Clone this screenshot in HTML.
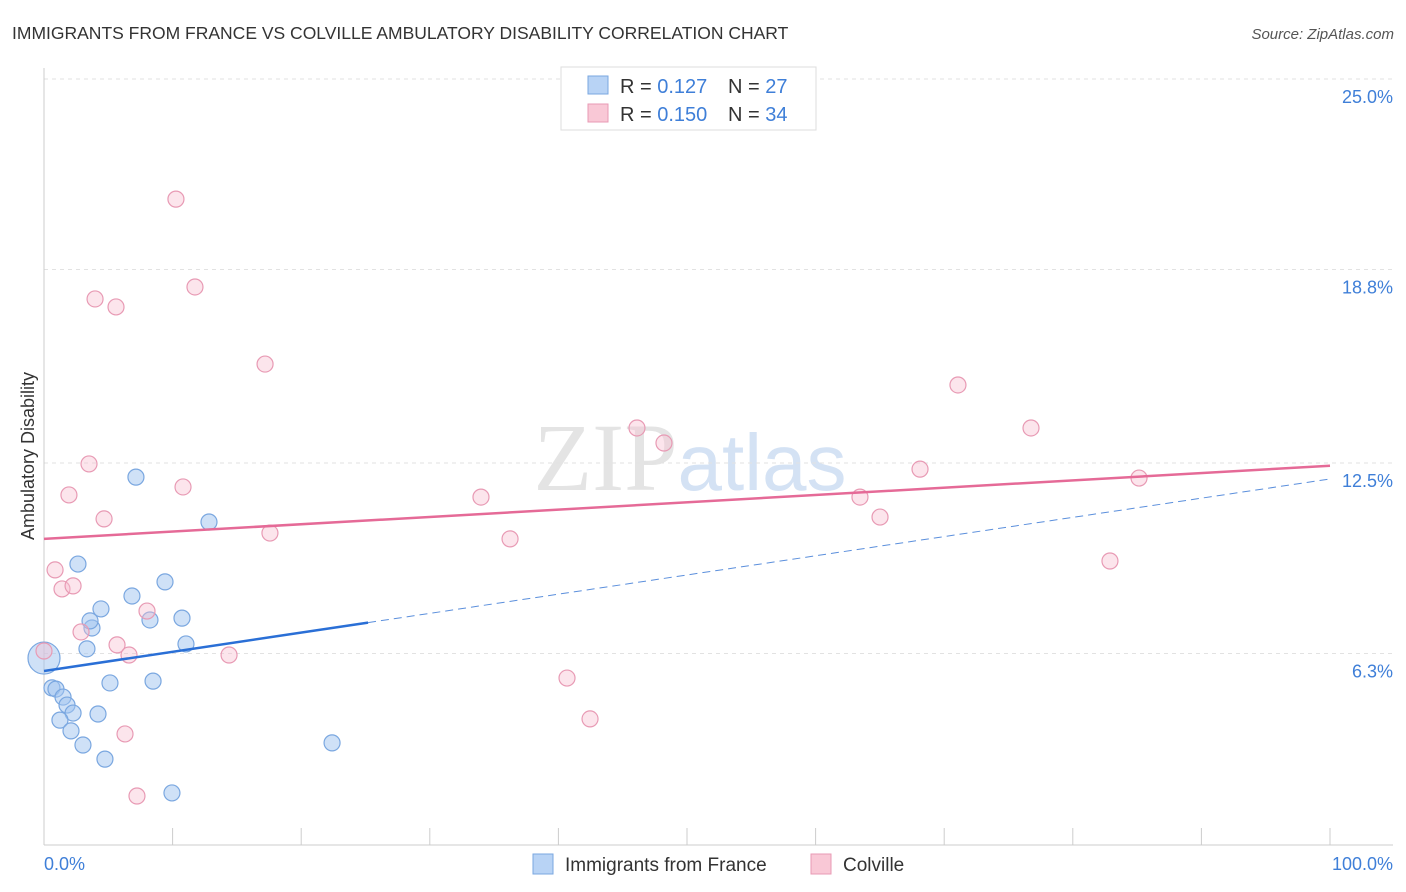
<!DOCTYPE html>
<html><head><meta charset="utf-8"><style>
body{margin:0;background:#fff;font-family:"Liberation Sans",sans-serif;}
</style></head><body>
<svg id="chart" width="1406" height="892" xmlns="http://www.w3.org/2000/svg" style="display:block">
<text x="12" y="39" font-size="17.5" fill="#333">IMMIGRANTS FROM FRANCE VS COLVILLE AMBULATORY DISABILITY CORRELATION CHART</text>
<text x="1394" y="39" font-size="15" fill="#555" text-anchor="end" font-style="italic">Source: ZipAtlas.com</text>
<text x="690" y="490" font-size="96" text-anchor="middle" fill="#e4e4e4" font-family="Liberation Serif, serif">ZIP<tspan fill="#d4e2f4" font-family="Liberation Sans, sans-serif" font-size="80">atlas</tspan></text>
<text transform="translate(34,456) rotate(-90)" font-size="18" fill="#333" text-anchor="middle">Ambulatory Disability</text>
<g id="grid"></g>
<g id="axes"></g>
<g id="marks"></g>
<g>
<rect x="561" y="67" width="255" height="63" fill="#fff" stroke="#ddd"/>
<rect x="588" y="76" width="20" height="18" fill="#b8d3f5" stroke="#7aa7e0"/>
<text x="620" y="93" font-size="20" fill="#333">R = <tspan fill="#3f7fd8">0.127</tspan></text>
<text x="728" y="93" font-size="20" fill="#333">N = <tspan fill="#3f7fd8">27</tspan></text>
<rect x="588" y="104" width="20" height="18" fill="#f9c8d6" stroke="#e89ab4"/>
<text x="620" y="121" font-size="20" fill="#333">R = <tspan fill="#3f7fd8">0.150</tspan></text>
<text x="728" y="121" font-size="20" fill="#333">N = <tspan fill="#3f7fd8">34</tspan></text>
</g>
<g>
<rect x="533" y="854" width="20" height="20" fill="#b8d3f5" stroke="#7aa7e0"/>
<text x="565" y="871" font-size="19" fill="#333">Immigrants from France</text>
<rect x="811" y="854" width="20" height="20" fill="#f9c8d6" stroke="#e89ab4"/>
<text x="843" y="871" font-size="19" fill="#333">Colville</text>
</g>
</svg>
<script>
const yTicks=[6.3,12.5,18.8,25.0];
const yTickLabels=["6.3%","12.5%","18.8%","25.0%"];
const xTickLabels=["0.0%","100.0%"];
const blueX=[0,0.62,0.93,1.48,1.79,2.26,1.24,2.10,3.03,4.74,4.20,5.13,3.34,3.73,3.58,4.43,2.64,6.84,8.24,9.41,10.73,11.04,8.48,7.15,12.83,9.95,22.40];
const blueY=[6.15,5.18,5.14,4.88,4.62,4.36,4.13,3.78,3.32,2.86,4.33,5.34,6.45,7.13,7.36,7.75,9.21,8.17,7.39,8.63,7.45,6.61,5.40,12.04,10.58,1.76,3.39];
const pinkX=[0,0.86,1.40,2.26,2.88,1.94,3.50,4.67,3.97,5.60,5.68,6.61,8.01,6.30,7.23,10.26,11.74,10.81,14.39,17.19,17.57,33.98,36.24,40.67,42.46,46.11,48.21,63.45,65.01,68.12,71.07,76.75,82.89,85.15];
const pinkY=[6.38,9.02,8.40,8.50,7.00,11.46,12.47,10.68,17.84,17.58,6.58,6.25,7.68,3.68,1.66,21.09,18.23,11.72,6.25,15.72,10.22,11.39,10.03,5.50,4.17,13.64,13.15,11.39,10.74,12.30,15.04,13.64,9.31,12.01];
const blueTrend=[5.73,11.98];
const blueSolidEnd=25.2;
const pinkTrend=[10.03,12.41];
const NS="http://www.w3.org/2000/svg";
const X=v=>44+v*12.86, Y=v=>847-v*30.72;
function mk(tag,attrs,parent){const e=document.createElementNS(NS,tag);for(const k in attrs)e.setAttribute(k,attrs[k]);document.getElementById(parent).appendChild(e);return e;}
yTicks.forEach((t,i)=>{
 const l=mk('line',{x1:44,x2:1393,y1:Y(t),y2:Y(t),stroke:'#e2e2e2','stroke-dasharray':'4,4'},'grid');
 
 
 const tx=mk('text',{x:1393,y:Y(t)+24,'font-size':18,fill:'#3f7fd8','text-anchor':'end'},'grid');
 tx.textContent=yTickLabels[i];
 
 
});
const ax=mk('line',{x1:44,x2:44,y1:68,y2:845,stroke:'#ccc'},'axes');


const bx=mk('line',{x1:44,x2:1393,y1:845,y2:845,stroke:'#ccc'},'axes');


for(let i=0;i<=10;i++){const t=mk('line',{x1:X(i*10),x2:X(i*10),y1:828,y2:845,stroke:'#ccc'},'axes');
 
 }
[[0,'start',44],[100,'end',1393]].forEach((d,i)=>{const t=mk('text',{x:d[2],y:870,'font-size':18,fill:'#3f7fd8','text-anchor':d[1]},'axes');t.textContent=xTickLabels[i];
 
 });
blueX.forEach((v,i)=>{const c=mk('circle',{cx:X(v),cy:Y(blueY[i]),r:i==0?16:8,fill:'rgba(160,196,240,0.5)',stroke:'#7aa7e0','stroke-width':1.2},'marks');
 
 });
pinkX.forEach((v,i)=>{const c=mk('circle',{cx:X(v),cy:Y(pinkY[i]),r:8,fill:'rgba(248,190,208,0.4)',stroke:'#e89ab4','stroke-width':1.2},'marks');
 
 });
const bAt=x=>blueTrend[0]+(blueTrend[1]-blueTrend[0])*x/100;
const l1=mk('line',{x1:X(0),y1:Y(bAt(0)),x2:X(blueSolidEnd),y2:Y(bAt(blueSolidEnd)),stroke:'#2a6fd6','stroke-width':2.5},'marks');


const l2=mk('line',{x1:X(blueSolidEnd),y1:Y(bAt(blueSolidEnd)),x2:X(100),y2:Y(bAt(100)),stroke:'#5b8fdc','stroke-width':1,'stroke-dasharray':'8,5'},'marks');


const l3=mk('line',{x1:X(0),y1:Y(pinkTrend[0]),x2:X(100),y2:Y(pinkTrend[1]),stroke:'#e56a97','stroke-width':2.5},'marks');


</script>
</body></html>
